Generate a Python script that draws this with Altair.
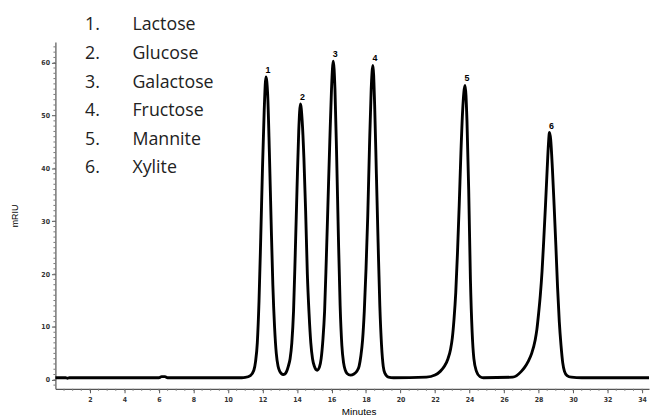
import altair as alt
import pandas as pd

# chromatogram trace
minutes = [0.0, 0.6, 0.7, 0.8, 6.0, 6.15, 6.35, 6.5, 10.8, 11.0,
           11.3, 11.5, 11.6, 11.7, 11.8, 11.9, 12.0, 12.1, 12.2, 12.3, 12.4, 12.5, 12.6, 12.7, 12.8, 12.9, 13.0, 13.2,
           13.3, 13.4, 13.5, 13.6, 13.7, 13.8, 13.9, 14.0, 14.1, 14.2, 14.3, 14.4, 14.5, 14.6, 14.7, 14.8, 14.9, 15.0, 15.17,
           15.3, 15.4, 15.5, 15.6, 15.7, 15.8, 15.9, 16.0, 16.1, 16.2, 16.3, 16.4, 16.5, 16.6, 16.7, 16.8, 16.9, 17.1,
           17.3, 17.5, 17.6, 17.7, 17.8, 17.9, 18.0, 18.1, 18.2, 18.3, 18.4, 18.5, 18.6, 18.7, 18.8, 18.9, 19.0, 19.1, 19.3, 19.6,
           21.5, 22.0, 22.3, 22.55, 22.75, 22.9, 23.0, 23.1, 23.2, 23.3, 23.4, 23.5, 23.6, 23.74, 23.85, 23.95, 24.05, 24.15, 24.25, 24.4, 24.6, 24.8,
           26.5, 27.0, 27.2, 27.4, 27.6, 27.8, 27.9, 28.0, 28.1, 28.2, 28.3, 28.4, 28.5, 28.57, 28.63, 28.7, 28.8, 28.9, 29.0, 29.1, 29.2, 29.3, 29.4, 29.5, 29.65, 29.9, 30.5, 34.4]
mriu = [0.4, 0.4, 0.3, 0.4, 0.4, 0.6, 0.6, 0.4, 0.4, 0.45,
        0.8, 1.8, 3.5, 7, 15, 27, 40, 51, 57.3, 54, 43, 30, 18, 10, 5, 2.6, 1.6, 1.0,
        1.1, 1.6, 2.6, 4, 7, 13, 24, 36, 47, 52.2, 49, 42, 32, 20, 12.5, 7, 4, 2.6, 1.8,
        2.4, 4, 7.5, 13, 23, 34, 45, 55, 60.3, 55, 42, 27, 14, 6.5, 3.2, 1.8, 1.2, 0.9,
        1.1, 1.8, 2.6, 4.5, 7.5, 13, 21, 31, 44, 55, 59.5, 52, 39, 26, 14, 6.5, 2.5, 1.2, 0.5, 0.4,
        0.5, 0.9, 1.6, 2.6, 4, 5.8, 7.9, 11.5, 16.5, 24, 33, 43, 51, 55.7, 49, 36, 19, 9, 4, 1.6, 0.6, 0.4,
        0.5, 1.6, 2.4, 3.5, 5.0, 7.5, 9.5, 12.5, 16, 20.5, 26.5, 33, 40, 44.5, 46.8, 45.5, 40, 33, 25.5, 17.5, 11, 6.5, 3.2, 1.6, 0.8, 0.5, 0.4, 0.4]

# peak labels
peak_ids = ["1", "2", "3", "4", "5", "6"]
peak_times = [12.2, 14.2, 16.1, 18.4, 23.74, 28.63]
peak_heights = [57.3, 52.2, 60.3, 59.5, 55.7, 46.8]

# compound list
list_numbers = ["1.", "2.", "3.", "4.", "5.", "6."]
compounds = ["Lactose", "Glucose", "Galactose", "Fructose", "Mannite", "Xylite"]

x_major = list(range(2, 35, 2))
y_major = [0, 10, 20, 30, 40, 50, 60]
x_minor = [v / 2 for v in range(1, 69)]
y_minor = list(range(-1, 64, 1))

trace = pd.DataFrame({"Minutes": minutes, "mRIU": mriu})
peaks = pd.DataFrame({"id": peak_ids, "t": peak_times, "h": peak_heights})
legend = pd.DataFrame({"nums": ["\n".join(list_numbers)], "names": ["\n".join(compounds)]})
xm = pd.DataFrame({"Minutes": x_minor})
ym = pd.DataFrame({"mRIU": y_minor})

XD = [0, 34.4]
YD = [-1.7, 63.9]
tick_font = "DejaVu Sans Condensed, Liberation Sans, sans-serif"
list_font = "Open Sans"
H = 351

x_scale = alt.Scale(domain=XD, nice=False, zero=False)
y_scale = alt.Scale(domain=YD, nice=False, zero=False)

x_axis = alt.Axis(values=x_major, title="Minutes", grid=False, tickSize=4, labelOverlap=False,
                  tickColor="#555", domainColor="#555", domainWidth=1.2,
                  labelFont=tick_font, labelFontWeight="bold",
                  labelFontSize=7, labelColor="#333", labelPadding=3,
                  titleFont="Liberation Sans", titleFontSize=10, titleFontWeight="normal",
                  titleColor="black", titlePadding=4, titleX=307)
y_axis = alt.Axis(values=y_major, title="mRIU", grid=False, tickSize=4, labelOverlap=False,
                  tickColor="#555", domainColor="#555", domainWidth=1.2,
                  labelFont=tick_font, labelFontWeight="bold",
                  labelFontSize=7, labelColor="#333", labelPadding=2,
                  titleFont="Liberation Sans", titleFontSize=9, titleFontWeight="normal",
                  titleColor="black", titlePadding=22)

line = alt.Chart(trace).mark_line(color="black", strokeWidth=2.9, interpolate="monotone").encode(
    x=alt.X("Minutes:Q", scale=x_scale, axis=x_axis, title="Minutes"),
    y=alt.Y("mRIU:Q", scale=y_scale, axis=y_axis, title="mRIU"),
)

xminor = alt.Chart(xm).mark_rule(color="#777", strokeWidth=1).encode(
    x=alt.X("Minutes:Q", scale=x_scale, axis=x_axis, title="Minutes"), y=alt.value(H), y2=alt.value(H + 2))
yminor = alt.Chart(ym).mark_rule(color="#777", strokeWidth=1).encode(
    y=alt.Y("mRIU:Q", scale=y_scale, axis=y_axis, title="mRIU"), x=alt.value(0), x2=alt.value(-2))

labels = alt.Chart(peaks).mark_text(font="Liberation Sans", fontWeight="bold", fontSize=9,
                                    color="black", dy=-2, dx=2, baseline="bottom").encode(
    x=alt.X("t:Q", scale=x_scale, axis=x_axis, title="Minutes"),
    y=alt.Y("h:Q", scale=y_scale, axis=y_axis, title="mRIU"), text="id:N")

nums = alt.Chart(legend).mark_text(font=list_font, fontSize=18, color="#222", align="left",
                                   baseline="middle", lineBreak="\n", lineHeight=29).encode(
    x=alt.value(30), y=alt.value(-17), text="nums:N")
names = alt.Chart(legend).mark_text(font=list_font, fontSize=18, color="#222", align="left",
                                    baseline="middle", lineBreak="\n", lineHeight=29).encode(
    x=alt.value(78), y=alt.value(-17), text="names:N")

chart = alt.layer(line, xminor, yminor, labels, nums, names).properties(
    width=601, height=H,
    autosize=alt.AutoSizeParams(type="none"),
    padding={"left": 48, "top": 32, "right": 2, "bottom": 25},
).configure_view(stroke=None).configure_axis(labelOverlap=False)

chart.save("out.html", embed_options={"renderer": "svg", "actions": False})
